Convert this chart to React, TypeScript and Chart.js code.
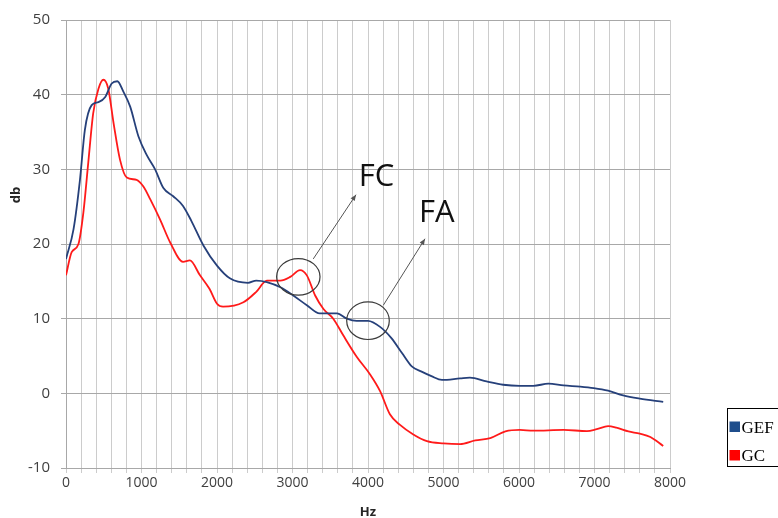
import React, { useEffect, useRef } from "react";
import { Chart, registerables } from "chart.js";

Chart.register(...registerables);

const hzGEF = [0, 100, 185, 250, 340, 430, 520, 605, 680, 760, 850, 960, 1070, 1180, 1290, 1420, 1550, 1660, 1820, 2000, 2170, 2410, 2520, 2660, 2840, 3010, 3190, 3360, 3590, 3720, 3850, 4000, 4160, 4310, 4450, 4580, 4710, 4840, 4980, 5220, 5350, 5570, 5790, 6010, 6190, 6390, 6590, 6810, 6990, 7180, 7380, 7600, 7910];
const dbGEF = [18.0, 22.0, 28.6, 35.3, 38.6, 39.0, 39.7, 41.5, 41.8, 40.4, 38.4, 34.4, 31.9, 30.0, 27.5, 26.4, 25.1, 23.1, 19.8, 17.1, 15.4, 14.8, 15.1, 14.9, 14.2, 13.1, 11.8, 10.7, 10.7, 10.0, 9.7, 9.7, 8.9, 7.4, 5.4, 3.6, 2.9, 2.3, 1.8, 2.0, 2.1, 1.6, 1.15, 1.0, 1.0, 1.3, 1.06, 0.9, 0.7, 0.35, -0.27, -0.7, -1.15];

const hzGC = [0, 75, 165, 230, 295, 360, 430, 495, 560, 630, 715, 805, 935, 1025, 1115, 1245, 1380, 1550, 1640, 1775, 1900, 2000, 2080, 2350, 2520, 2660, 2840, 2970, 3100, 3190, 3300, 3410, 3540, 3670, 3850, 4030, 4160, 4290, 4420, 4600, 4780, 5000, 5220, 5420, 5620, 5820, 6010, 6190, 6590, 6900, 7030, 7180, 7290, 7450, 7600, 7740, 7910];
const dbGC = [15.8, 18.9, 20.0, 24.2, 30.9, 37.5, 40.8, 42.0, 40.8, 36.2, 31.3, 28.9, 28.6, 27.7, 26.0, 23.3, 20.2, 17.6, 17.8, 15.8, 14.0, 12.0, 11.6, 12.2, 13.6, 15.1, 15.1, 15.6, 16.5, 15.8, 13.1, 11.3, 10.0, 7.8, 4.9, 2.5, 0.3, -2.8, -4.2, -5.5, -6.4, -6.7, -6.8, -6.3, -6.0, -5.1, -4.9, -5.0, -4.9, -5.05, -4.8, -4.4, -4.6, -5.1, -5.4, -5.85, -7.05];

const seriesNames = ["GEF", "GC"];
const lineColors = ["#26407a", "#ff1a1a"];
const legendColors = ["#1f4e8c", "#ff0000"];

const annotationPlugin = {
  id: "annotations",
  afterDatasetsDraw(chart: any) {
    const { ctx, scales } = chart;
    const xs = scales.x;
    const ys = scales.y;
    const px = (v: number) => xs.getPixelForValue(v);
    const py = (v: number) => ys.getPixelForValue(v);
    ctx.save();
    ctx.strokeStyle = "#3a3a3a";
    ctx.lineWidth = 1.2;
    const ellipses = [
      { x: 3077, y: 15.6, rx: 21.7, ry: 18.3 },
      { x: 4000, y: 9.73, rx: 21.3, ry: 18.8 },
    ];
    ellipses.forEach((e) => {
      ctx.beginPath();
      ctx.ellipse(px(e.x), py(e.y), e.rx, e.ry, 0, 0, Math.PI * 2);
      ctx.stroke();
    });
    const arrows = [
      { x1: 3275, y1: 18.0, x2: 3841, y2: 26.6 },
      { x1: 4203, y1: 11.8, x2: 4755, y2: 20.7 },
    ];
    ctx.strokeStyle = "#555555";
    ctx.fillStyle = "#555555";
    ctx.lineWidth = 1;
    arrows.forEach((a) => {
      const X1 = px(a.x1), Y1 = py(a.y1), X2 = px(a.x2), Y2 = py(a.y2);
      ctx.beginPath();
      ctx.moveTo(X1, Y1);
      ctx.lineTo(X2, Y2);
      ctx.stroke();
      const ang = Math.atan2(Y2 - Y1, X2 - X1);
      const L = 6, W = 2.5;
      ctx.beginPath();
      ctx.moveTo(X2, Y2);
      ctx.lineTo(X2 - L * Math.cos(ang) + W * Math.sin(ang), Y2 - L * Math.sin(ang) - W * Math.cos(ang));
      ctx.lineTo(X2 - L * Math.cos(ang) - W * Math.sin(ang), Y2 - L * Math.sin(ang) + W * Math.cos(ang));
      ctx.closePath();
      ctx.fill();
    });
    ctx.fillStyle = "#111111";
    ctx.font = "31px 'Open Sans', sans-serif";
    ctx.textAlign = "left";
    ctx.textBaseline = "alphabetic";
    ctx.fillText("FC", px(3878), py(27.8));
    ctx.fillText("FA", px(4675), py(23.0));

    ctx.fillStyle = "#262626";
    ctx.font = "bold 13px 'Open Sans', sans-serif";
    ctx.textAlign = "center";
    ctx.textBaseline = "middle";
    ctx.fillText("Hz", (chart.chartArea.left + chart.chartArea.right) / 2, 512);
    ctx.save();
    ctx.translate(16, 195);
    ctx.rotate(-Math.PI / 2);
    ctx.fillText("db", 0, 0);
    ctx.restore();

    ctx.strokeStyle = "#000000";
    ctx.lineWidth = 1;
    ctx.strokeRect(727.5, 408.5, 70, 58);
    ctx.font = "17px 'Liberation Serif', serif";
    ctx.textAlign = "left";
    ctx.textBaseline = "alphabetic";
    seriesNames.forEach((n, i) => {
      const top = 421.5 + i * 28.5;
      ctx.fillStyle = legendColors[i];
      ctx.fillRect(729.5, top, 10.5, 10.5);
      ctx.fillStyle = "#000000";
      ctx.fillText(n, 741.5, top + 11);
    });
    ctx.restore();
  },
};

export default function App() {
  const ref = useRef<HTMLCanvasElement | null>(null);
  useEffect(() => {
    document.body.style.margin = "0";
    const canvas = ref.current!;
    const chart = new Chart(canvas, {
      type: "line",
      data: {
        datasets: [
          {
            label: seriesNames[0],
            data: hzGEF.map((x, i) => ({ x, y: dbGEF[i] })),
            borderColor: lineColors[0],
            borderWidth: 1.8,
            pointRadius: 0,
            fill: false,
            cubicInterpolationMode: "monotone",
          },
          {
            label: seriesNames[1],
            data: hzGC.map((x, i) => ({ x, y: dbGC[i] })),
            borderColor: lineColors[1],
            borderWidth: 1.8,
            pointRadius: 0,
            fill: false,
            cubicInterpolationMode: "monotone",
          },
        ],
      },
      options: {
        animation: false,
        responsive: false,
        maintainAspectRatio: false,
        layout: { padding: { left: 0, top: 17, right: 108, bottom: 0 } },
        plugins: { legend: { display: false }, tooltip: { enabled: false } },
        scales: {
          x: {
            type: "linear",
            min: 0,
            max: 8000,
            afterFit: (s: any) => {
              s.height = 50;
            },
            ticks: {
              stepSize: 200,
              autoSkip: false,
              maxRotation: 0,
              padding: 2,
              color: "#404040",
              font: { family: "'Open Sans', sans-serif", size: 14 },
              callback: (v: any) => (Number(v) % 1000 === 0 ? String(v) : ""),
            },
            grid: { color: "#cccccc", lineWidth: 1, tickLength: 5, drawTicks: true },
            border: { color: "#a8a8a8" },
          },
          y: {
            min: -10,
            max: 50,
            afterFit: (s: any) => {
              s.width = 66;
            },
            ticks: {
              stepSize: 10,
              padding: 11,
              color: "#404040",
              font: { family: "'Open Sans', sans-serif", size: 15 },
            },
            grid: { color: "#a8a8a8", lineWidth: 1, tickLength: 5 },
            border: { color: "#a8a8a8" },
          },
        },
      },
      plugins: [annotationPlugin],
    } as any);
    return () => chart.destroy();
  }, []);
  return <canvas ref={ref} width={778} height={518} style={{ display: "block" }} />;
}
